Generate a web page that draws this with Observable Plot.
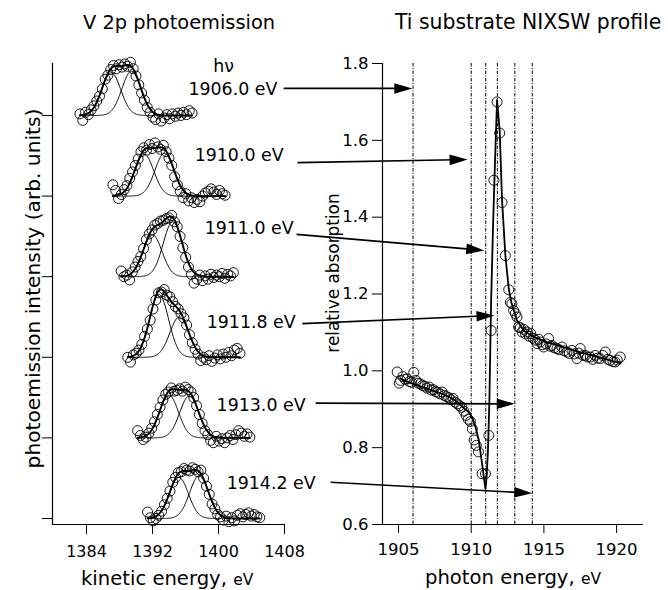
<!DOCTYPE html>
<html><head><meta charset="utf-8">
<script src="https://cdn.jsdelivr.net/npm/d3@7"></script>
<script src="https://cdn.jsdelivr.net/npm/@observablehq/plot@0.6"></script>
<style>
html,body{margin:0;padding:0;background:#fff;}
#wrap{position:relative;width:668px;height:590px;overflow:hidden;background:#fff;}
#wrap svg{position:absolute;left:0;top:0;}
</style></head><body><div id="wrap"></div>
<script>
// ---------- DATA ----------
const photonEnergies = [1906.0, 1910.0, 1911.0, 1911.8, 1913.0, 1914.2];
// kinetic-energy offsets of the V 2p data points relative to the first fit component (eV)
const relKE = [-3.8,-3.46,-3.12,-2.78,-2.44,-2.1,-1.76,-1.42,-1.08,-0.74,-0.4,-0.06,0.28,0.62,0.96,1.3,1.64,1.98,2.32,2.66,3.0,3.34,3.68,4.02,4.36,4.7,5.04,5.38,5.72,6.06,6.4,6.74,7.08,7.42,7.76,8.1,8.44,8.78,9.12,9.46,9.8];
// photoemission intensity (arb. units, spectra stacked by 100)
const pe1906   = [2,-6,4,1,7,12,18,24,33,45,50,57,62,58,63,60,64,61,66,58,49,38,28,19,10,4,-2,-5,2,-7,-3,1,-4,2,-1,3,0,4,1,6,3];
const pe1910   = [14,7,-3,2,8,13,22,30,38,46,55,60,57,64,59,66,61,58,63,55,47,38,24,14,6,-2,3,-6,-2,-8,-4,-7,0,4,6,9,5,2,7,3,1];
const pe1911_0 = [7,0,2,-4,6,12,19,25,35,46,53,58,64,66,69,70,72,73,76,68,62,50,36,24,12,3,-8,-3,2,-5,1,-3,3,-1,2,0,4,-2,3,1,5];
const pe1911_8 = [0,-6,3,5,9,16,26,35,46,60,71,80,81,84,77,75,69,63,60,54,49,40,28,18,10,4,-4,0,-3,2,-5,-1,3,-2,4,0,6,2,9,11,5];
const pe1913   = [9,3,-2,1,6,12,20,29,38,47,54,57,62,58,59,61,58,63,60,57,50,40,29,18,9,4,-3,-6,2,-4,-1,-6,0,3,-2,4,9,6,2,5,1];
const pe1914_2 = [8,1,-3,0,4,9,17,25,34,45,51,57,58,62,60,59,63,61,58,60,50,40,30,18,12,5,2,-2,3,-4,1,-3,4,6,2,5,7,3,5,2,1];
const peSpectra = [pe1906, pe1910, pe1911_0, pe1911_8, pe1913, pe1914_2];
// fitted Gaussian components (amplitudes per spectrum, shared width/splitting)
const compAmpLow  = [53, 52, 52, 78, 53, 51];
const compAmpHigh = [55, 53, 68, 50, 52, 53];
const compSplit = 2.45, compSigma = 1.15, compKEat1906 = 1387.0;
const keTicks = [1384, 1392, 1400, 1408];
const stackTicks = [0, 100, 200, 300, 400, 500];

// Ti NIXSW profile
const nixswE = [1904.91,1905.05,1905.14,1905.3,1905.45,1905.6,1905.75,1905.9,1906.05,1906.2,1906.35,1906.5,1906.65,1906.8,1906.95,1907.1,1907.25,1907.4,1907.55,1907.7,1907.85,1908.0,1908.15,1908.3,1908.45,1908.6,1908.75,1908.9,1909.05,1909.2,1909.35,1909.5,1909.65,1909.8,1909.95,1910.08,1910.2,1910.35,1910.5,1910.75,1910.98,1911.21,1911.37,1911.56,1911.78,1911.96,1912.12,1912.35,1912.58,1912.69,1912.8,1912.92,1913.04,1913.15,1913.26,1913.38,1913.5,1913.62,1913.74,1913.84,1914.0,1914.1,1914.25,1914.4,1914.53,1914.65,1914.75,1914.9,1914.98,1915.15,1915.32,1915.45,1915.56,1915.72,1915.9,1916.05,1916.24,1916.4,1916.59,1916.75,1916.93,1917.1,1917.27,1917.4,1917.5,1917.68,1917.84,1918.0,1918.19,1918.36,1918.53,1918.7,1918.87,1919.05,1919.22,1919.4,1919.56,1919.75,1919.9,1920.05,1920.25];
const nixswV = [0.997,0.968,0.975,0.985,0.978,0.979,0.972,0.970,0.996,0.975,0.968,0.966,0.962,0.960,0.955,0.958,0.950,0.951,0.946,0.944,0.940,0.945,0.936,0.933,0.930,0.925,0.928,0.918,0.914,0.909,0.905,0.895,0.884,0.874,0.868,0.849,0.820,0.806,0.789,0.732,0.732,0.832,1.105,1.496,1.700,1.619,1.438,1.300,1.211,1.178,1.175,1.157,1.149,1.140,1.114,1.112,1.101,1.108,1.096,1.101,1.090,1.097,1.085,1.080,1.071,1.082,1.075,1.068,1.062,1.070,1.084,1.064,1.066,1.060,1.058,1.055,1.062,1.052,1.049,1.045,1.053,1.044,1.032,1.046,1.058,1.040,1.040,1.036,1.036,1.030,1.040,1.033,1.032,1.040,1.049,1.030,1.027,1.024,1.023,1.028,1.036];
const fitE = [1905.2,1906.0,1907.0,1908.0,1908.6,1909.0,1909.5,1909.9,1910.1,1910.3,1910.52,1910.75,1910.9,1910.98,1911.05,1911.15,1911.25,1911.37,1911.5,1911.65,1911.78,1911.96,1912.12,1912.35,1912.58,1912.75,1912.95,1913.15,1913.6,1914.2,1915.2,1916.3,1917.5,1918.8,1920.25];
const fitV = [0.978,0.966,0.953,0.940,0.930,0.920,0.903,0.890,0.875,0.853,0.819,0.758,0.715,0.693,0.72,0.79,0.92,1.18,1.374,1.56,1.705,1.625,1.445,1.30,1.215,1.18,1.155,1.132,1.105,1.090,1.075,1.062,1.048,1.035,1.020];
const absTicks = [0.6, 0.8, 1.0, 1.2, 1.4, 1.6, 1.8];
const hvTicks = [1905, 1910, 1915, 1920];
// annotation arrows (photon-energy / absorption coordinates)
const arrowFromE = [1897.10, 1898.06, 1897.99, 1898.39, 1899.30, 1900.33];
const arrowFromV = [1.735, 1.542, 1.355, 1.123, 0.916, 0.710];
const arrowToE   = [1905.95, 1909.75, 1910.90, 1911.60, 1913.00, 1914.20];
const arrowToV   = [1.735, 1.550, 1.3135, 1.144, 0.914, 0.6815];
const labelE = [1896.67, 1897.10, 1897.79, 1897.93, 1898.61, 1899.30];
const labelV = [1.733, 1.561, 1.3695, 1.127, 0.910, 0.708];

// ---------- LAYOUT ----------
const W = 668, H = 590;
const LF = {l: 52, r: 285, t: 63, b: 524};
const RF = {l: 382, r: 643, t: 63, b: 524};
const keDomain = [1379.88, 1408.12];
const intDomain = [-7.44, 564.5];
const hvDomain = [1903.9, 1921.85];
const absDomain = [0.6, 1.8];
const FONT = "DejaVu Sans";

// ---------- LEFT PANEL ----------
const nS = photonEnergies.length;
const peData = [], fitLow = [], fitHigh = [], fitSum = [];
photonEnergies.forEach((hv, k) => {
  const off = 100 * (nS - 1 - k);
  const c1 = compKEat1906 + (hv - 1906);
  const c2 = c1 + compSplit;
  peSpectra[k].forEach((v, i) => peData.push({ke: c1 + relKE[i], I: off + v}));
  const g = (x, c, a) => a * Math.exp(-((x - c) ** 2) / (2 * compSigma * compSigma));
  for (let x = c1 + relKE[0]; x <= c1 + relKE[relKE.length - 1] + 1e-9; x += 0.05) {
    const a = g(x, c1, compAmpLow[k]), b = g(x, c2, compAmpHigh[k]);
    fitLow.push({ke: x, I: off + a, k});
    fitHigh.push({ke: x, I: off + b, k});
    fitSum.push({ke: x, I: off + a + b, k});
  }
});

const leftPlot = Plot.plot({
  width: W, height: H,
  marginLeft: LF.l, marginRight: W - LF.r, marginTop: LF.t, marginBottom: H - LF.b,
  style: {background: "transparent", fontFamily: FONT, fontSize: "16px", color: "black", overflow: "visible"},
  x: {domain: keDomain, axis: null},
  y: {domain: intDomain, axis: null},
  marks: [
    Plot.ruleX([keDomain[0]], {stroke: "black", strokeWidth: 1.2}),
    Plot.ruleY([intDomain[0]], {stroke: "black", strokeWidth: 1.2}),
    Plot.axisX(keTicks, {anchor: "bottom", tickSize: 10, tickPadding: 11, label: null, tickFormat: d3.format("d")}),
    Plot.axisY(stackTicks, {anchor: "left", tickSize: 10, tickFormat: () => "", label: null}),
    Plot.line(fitLow, {x: "ke", y: "I", z: "k", stroke: "black", strokeWidth: 1}),
    Plot.line(fitHigh, {x: "ke", y: "I", z: "k", stroke: "black", strokeWidth: 1}),
    Plot.line(fitSum, {x: "ke", y: "I", z: "k", stroke: "black", strokeWidth: 1.9}),
    Plot.dot(peData, {x: "ke", y: "I", r: 5, stroke: "black", strokeWidth: 0.9, fill: "none"})
  ]
});

// ---------- RIGHT PANEL ----------
const kx = (RF.r - RF.l) / (hvDomain[1] - hvDomain[0]);
const ky = (RF.b - RF.t) / (absDomain[1] - absDomain[0]);
const arrows = photonEnergies.map((hv, i) => {
  const dx = (arrowToE[i] - arrowFromE[i]) * kx;
  const dy = -(arrowToV[i] - arrowFromV[i]) * ky;
  const th = Math.atan2(dy, dx);
  return {
    x1: arrowFromE[i], y1: arrowFromV[i],
    x2: arrowToE[i] - 12 * Math.cos(th) / kx, y2: arrowToV[i] + 12 * Math.sin(th) / ky,
    tx: arrowToE[i], ty: arrowToV[i], angle: th * 180 / Math.PI,
    lx: labelE[i], ly: labelV[i], label: hv.toFixed(1) + " eV"
  };
});
const arrowHead = {draw(ctx) { ctx.moveTo(0, 0); ctx.lineTo(-18, -5.3); ctx.lineTo(-18, 5.3); ctx.closePath(); }};
const nixsw = nixswE.map((e, i) => ({e, v: nixswV[i]}));
const fit = fitE.map((e, i) => ({e, v: fitV[i]}));

const rightPlot = Plot.plot({
  width: W, height: H,
  marginLeft: RF.l, marginRight: W - RF.r, marginTop: RF.t, marginBottom: H - RF.b,
  style: {background: "transparent", fontFamily: FONT, fontSize: "16.5px", color: "black", overflow: "visible"},
  x: {domain: hvDomain, axis: null},
  y: {domain: absDomain, axis: null},
  marks: [
    Plot.ruleX(photonEnergies, {y1: absDomain[0], y2: absDomain[1], stroke: "black", strokeWidth: 1, strokeDasharray: "3.5,1.5,1,1.5"}),
    Plot.ruleX([hvDomain[0]], {stroke: "black", strokeWidth: 1.2}),
    Plot.ruleY([absDomain[0]], {stroke: "black", strokeWidth: 1.2}),
    Plot.axisX(hvTicks, {anchor: "bottom", tickSize: 9, tickPadding: 10, label: null, tickFormat: d3.format("d")}),
    Plot.axisY(absTicks, {anchor: "left", tickSize: 10, tickPadding: 4, label: null, tickFormat: d3.format(".1f")}),
    Plot.line(fit, {x: "e", y: "v", stroke: "black", strokeWidth: 1.8}),
    Plot.dot(nixsw, {x: "e", y: "v", r: 5, stroke: "black", strokeWidth: 0.9, fill: "none"}),
    Plot.link(arrows, {x1: "x1", y1: "y1", x2: "x2", y2: "y2", stroke: "black", strokeWidth: 1.7}),
    Plot.dot(arrows, {x: "tx", y: "ty", symbol: arrowHead, rotate: "angle", fill: "black", r: 5}),
    Plot.text(arrows, {x: "lx", y: "ly", text: "label", textAnchor: "end", fontSize: 17.4, fill: "black"}),
    Plot.text(["hν"], {x: 1892.98, y: 1.793, fontSize: 17.4, fill: "black"})
  ]
});

// ---------- TITLES ----------
const ov = d3.create("svg").attr("width", W).attr("height", H)
  .style("font-family", FONT).style("fill", "black").style("background", "transparent");
ov.append("text").attr("x", 83).attr("y", 29).attr("font-size", 19.4).text("V 2p photoemission");
ov.append("text").attr("x", 395).attr("y", 28.5).attr("font-size", 20.4).text("Ti substrate NIXSW profile");
ov.append("text").attr("transform", "translate(39.5,288.5) rotate(-90)").attr("text-anchor", "middle")
  .attr("font-size", 20.2).text("photoemission intensity (arb. units)");
ov.append("text").attr("transform", "translate(339.3,273) rotate(-90)").attr("text-anchor", "middle")
  .attr("font-size", 16.9).text("relative absorption");
const t1 = ov.append("text").attr("x", 81).attr("y", 584.5).attr("font-size", 19.6);
t1.append("tspan").text("kinetic energy, ");
t1.append("tspan").attr("font-size", 15.5).text("eV");
const t2 = ov.append("text").attr("x", 425).attr("y", 584).attr("font-size", 19.6);
t2.append("tspan").text("photon energy, ");
t2.append("tspan").attr("font-size", 15.5).text("eV");

const wrap = document.getElementById("wrap");
wrap.appendChild(leftPlot);
wrap.appendChild(rightPlot);
wrap.appendChild(ov.node());
</script></body></html>
